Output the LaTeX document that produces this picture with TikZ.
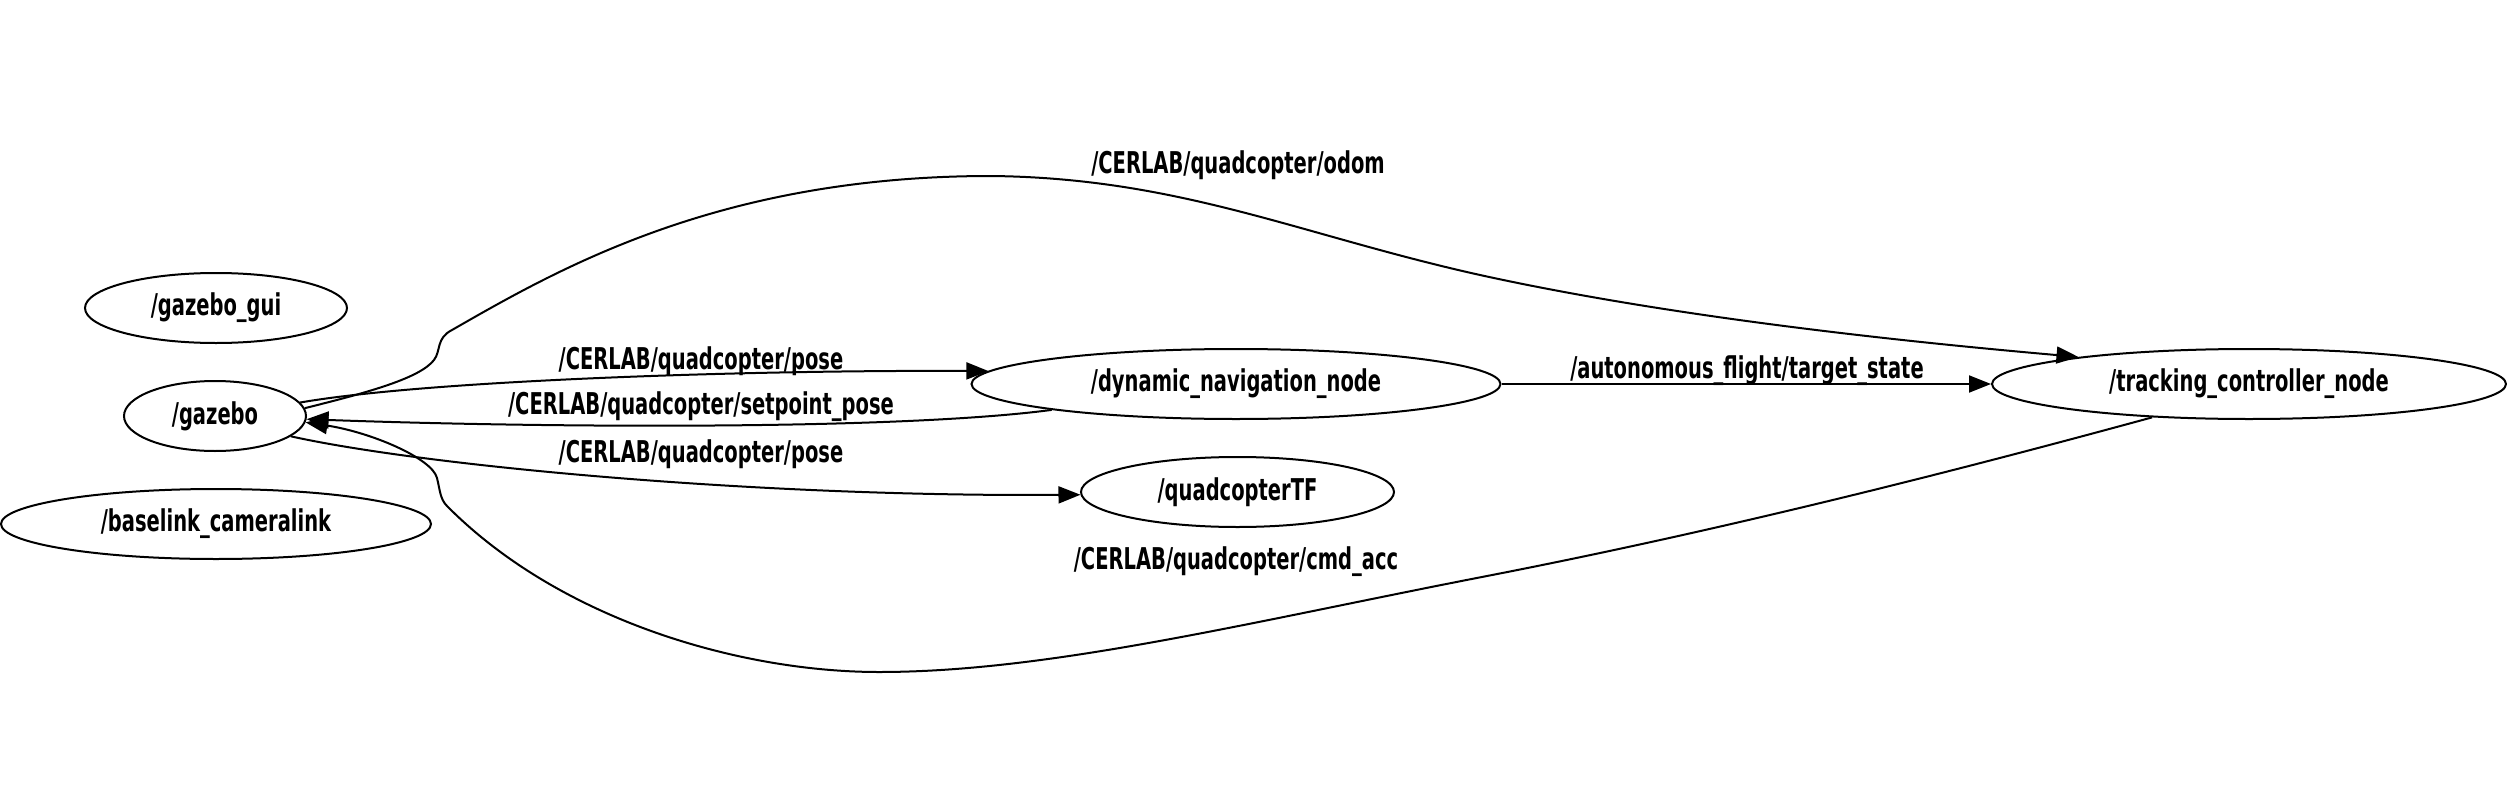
\documentclass[tikz,border=0pt]{standalone}
\usepackage{fontspec}
\setmainfont{DejaVu Sans}[FakeStretch=0.65]
\usetikzlibrary{shapes.geometric,arrows.meta}
\begin{document}
\begin{tikzpicture}[x=1pt,y=-1pt,
  txt/.style={font=\bfseries\fontsize{30}{36}\selectfont},
  rosnode/.style={ellipse,draw,line width=2pt,inner sep=0pt,minimum height=70pt,txt},
  lbl/.style={inner sep=0pt,txt},
  edge/.style={line width=2pt,-{Triangle[length=22pt,width=17pt]}}]
\useasboundingbox (0,0) rectangle (2507,789);
% nodes
\node[rosnode,minimum width=262pt] (gui) at (216,308) {/gazebo\_gui};
\node[rosnode,minimum width=182pt] (gz) at (215,416) {/gazebo};
\node[rosnode,minimum width=430pt] (base) at (216,524) {/baselink\_cameralink};
\node[rosnode,minimum width=529pt] (dyn) at (1236,384) {/dynamic\_navigation\_node};
\node[rosnode,minimum width=313pt] (qtf) at (1237.5,492) {/quadcopterTF};
\node[rosnode,minimum width=514pt] (trk) at (2249,384) {/tracking\_controller\_node};
% edges
\draw[edge] (gz.9) .. controls (430,380) and (750,370) .. (dyn.177.6);
\node[lbl] (l1) at (701,361) {/CERLAB/quadcopter/pose};
\draw[edge] (dyn.188.7) .. controls (900,430) and (550,428) .. (gz.-2.5);
\node[lbl] (l2) at (701,407) {/CERLAB/quadcopter/setpoint\_pose};
\draw[edge] (gz.-15.3) .. controls (420,465) and (750,497) .. (qtf.181);
\node[lbl] (l3) at (701,454) {/CERLAB/quadcopter/pose};
\draw[edge] (dyn.east) -- (trk.west);
\node[lbl] (l4) at (1747,371) {/autonomous\_flight/target\_state};
\draw[edge] (gz.5) .. controls (370,392) and (420,378) .. (434,360)
  .. controls (441,351) and (436,338) .. (452,330)
  .. controls (560,268) and (720,176) .. (991,176)
  .. controls (1180,178) and (1300,235) .. (1480,275)
  .. controls (1680,319) and (1920,343) .. (trk.171);
\node[lbl] (l5) at (1238,165) {/CERLAB/quadcopter/odom};
\draw[edge] (trk.199.5) .. controls (1930,478) and (1708,533) .. (1487,576)
  .. controls (1250,622) and (1050,672) .. (879,672)
  .. controls (740,672) and (560,620) .. (447,506)
  .. controls (440,499) and (440,490) .. (437,478)
  .. controls (432,458) and (370,432) .. (gz.-4);
\node[lbl] (l6) at (1236,562) {/CERLAB/quadcopter/cmd\_acc};
\end{tikzpicture}
\end{document}
